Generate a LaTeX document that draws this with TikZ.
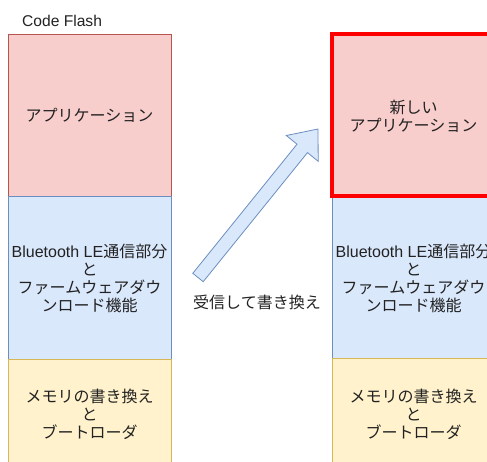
\documentclass[tikz,border=0pt]{standalone}
\usepackage{fontspec}
\setmainfont{Noto Sans CJK JP}
\newfontfamily\lat{Liberation Sans}
\definecolor{pinkfill}{HTML}{F8CECC}
\definecolor{pinkline}{HTML}{B85450}
\definecolor{bluefill}{HTML}{DAE8FC}
\definecolor{blueline}{HTML}{6C8EBF}
\definecolor{yelfill}{HTML}{FFF2CC}
\definecolor{yelline}{HTML}{D6B656}
\definecolor{txt}{HTML}{222222}
\begin{document}
\begin{tikzpicture}[x=1pt,y=-1pt,
  lbl/.style={text=txt,align=center,font=\fontsize{16}{18}\selectfont,inner sep=0pt},
  appbox/.style={fill=pinkfill,draw=pinkline,line width=0.8pt},
  blebox/.style={fill=bluefill,draw=blueline,line width=0.8pt},
  yelbox/.style={fill=yelfill,draw=yelline,line width=0.8pt},
  newbox/.style={fill=pinkfill,draw=red,line width=3.4pt},
  barrow/.style={fill=bluefill,draw=blueline,line width=0.8pt,line join=miter}]
\useasboundingbox (0,0) rectangle (487,461);
\clip (0,0) rectangle (487,461);
% left column
\node[lbl,anchor=west,font=\lat\fontsize{15.6}{18}\selectfont] (cf) at (22,21) {Code Flash};
\draw[appbox] (8,34) rectangle (171,196);
\draw[blebox] (8,196) rectangle (171,359);
\draw[yelbox] (8,359) rectangle (171,475);
\node[lbl] (app) at (89.5,115) {アプリケーション};
\node[lbl] (ble) at (89.5,278) {{\lat Bluetooth LE}通信部分\\と\\ファームウェアダウ\\ンロード機能};
\node[lbl] (boot) at (89.5,414) {メモリの書き換え\\と\\ブートローダ};
% right column
\draw[blebox] (332,196) rectangle (495,358);
\draw[yelbox] (332,358) rectangle (495,475);
\draw[newbox] (332,34) rectangle (495,196);
\node[lbl] (newapp) at (413.5,116) {新しい\\アプリケーション};
\node[lbl] (ble2) at (413.5,278) {{\lat Bluetooth LE}通信部分\\と\\ファームウェアダウ\\ンロード機能};
\node[lbl] (boot2) at (413.5,414) {メモリの書き換え\\と\\ブートローダ};
% block arrow
\draw[barrow] (192.8,273.3) -- (297.0,144.2) -- (286.3,135.5) -- (318,129) -- (318.2,161.3) -- (307.5,152.6) -- (203.2,281.7) -- cycle;
\node[lbl] (recv) at (257,302) {受信して書き換え};
\end{tikzpicture}
\end{document}
